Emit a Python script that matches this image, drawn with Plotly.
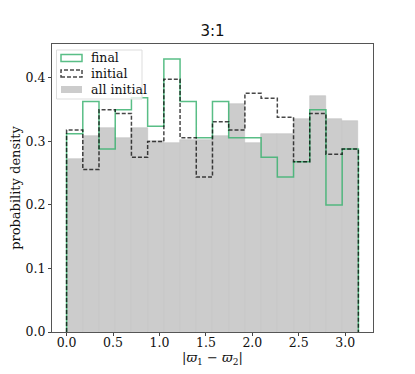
import numpy as np
import plotly.graph_objects as go

# 18 bins over [0, pi]
bin_edges = list(np.linspace(0, np.pi, 19))
bin_centers = [(a + b) / 2 for a, b in zip(bin_edges[:-1], bin_edges[1:])]
bin_width = np.pi / 18

# densities
all_initial = [0.272, 0.309, 0.322, 0.305, 0.322, 0.301, 0.298, 0.302, 0.302,
               0.309, 0.359, 0.298, 0.312, 0.312, 0.335, 0.372, 0.335, 0.332]
final = [0.312, 0.363, 0.288, 0.350, 0.369, 0.324, 0.430, 0.363, 0.306,
         0.363, 0.306, 0.306, 0.275, 0.244, 0.268, 0.350, 0.200, 0.288]
initial = [0.318, 0.256, 0.350, 0.344, 0.275, 0.300, 0.398, 0.306, 0.244,
           0.331, 0.318, 0.376, 0.368, 0.338, 0.268, 0.344, 0.280, 0.288]

legend_labels = ["final", "initial", "all initial"]
title = "3:1"

GREEN = "rgba(60,179,113,0.85)"
DASH = "rgba(0,0,0,0.72)"
GRAY = "#cccccc"
SERIF = "DejaVu Serif, serif"

# the page body has an 8px margin, so the figure is drawn 8px in and down
W, H = 407, 366
OFF = 8


def step_xy(vals):
    # outline like matplotlib histtype='step'
    xs = [bin_edges[0]] + bin_edges[:-1] + [bin_edges[-1]]
    ys = [0] + list(vals) + [0]
    return xs, ys


fig = go.Figure()
fig.add_bar(x=bin_centers, y=all_initial, width=bin_width,
            marker=dict(color=GRAY, line=dict(color="#c2c2c2", width=0.6)),
            name=legend_labels[2], showlegend=False)

gx, gy = step_xy(final)
fig.add_scatter(x=gx, y=gy, mode="lines", line_shape="hv",
                line=dict(color=GREEN, width=1.5),
                name=legend_labels[0], showlegend=False)

ix, iy = step_xy(initial)
fig.add_scatter(x=ix, y=iy, mode="lines", line_shape="hv",
                line=dict(color=DASH, width=1.5, dash="4px,2px"),
                name=legend_labels[1], showlegend=False)

# plot area in page pixels
L, R, T, B = 52, 373, 44, 332


def px(x):
    return (x - L) / (R - L)


def py(y):
    return (B - y) / (B - T)


# hand-made legend box (matplotlib look: outlined / dashed / filled patches)
shapes = [
    dict(type="rect", xref="paper", yref="paper", layer="above",
         x0=px(56.5), x1=px(142), y0=py(99), y1=py(50),
         fillcolor="rgba(255,255,255,0.8)", line=dict(color="#dddddd", width=1)),
    dict(type="rect", xref="paper", yref="paper", layer="above",
         x0=px(61), x1=px(82), y0=py(61.5), y1=py(54.5),
         line=dict(color=GREEN, width=1.5)),
    dict(type="rect", xref="paper", yref="paper", layer="above",
         x0=px(61), x1=px(82), y0=py(77), y1=py(70),
         line=dict(color=DASH, width=1.5, dash="4px,2px")),
    dict(type="rect", xref="paper", yref="paper", layer="above",
         x0=px(61), x1=px(82), y0=py(93), y1=py(86),
         fillcolor=GRAY, line=dict(width=0)),
]
annotations = [
    dict(xref="paper", yref="paper", x=px(89), y=py(yy), text=t,
         showarrow=False, xanchor="left", yanchor="middle",
         font=dict(family=SERIF, size=12.5, color="#111"))
    for t, yy in zip(legend_labels, [57.5, 73.5, 89.5])
]

fig.update_layout(
    width=W, height=H,
    margin=dict(l=L - OFF, r=W - (R - OFF), t=T - OFF, b=H - (B - OFF),
                autoexpand=False),
    paper_bgcolor="white", plot_bgcolor="white",
    title=dict(text=title, x=((L + R) / 2 - OFF) / W, xanchor="center",
               y=1 - (31 - OFF) / H, yanchor="middle",
               font=dict(family="DejaVu Sans, sans-serif", size=15, color="#111")),
    bargap=0,
    shapes=shapes, annotations=annotations,
    font=dict(family=SERIF, size=12, color="#111"),
)
fig.update_xaxes(range=[-0.157, 3.299], tickvals=[0, 0.5, 1.0, 1.5, 2.0, 2.5, 3.0],
                 tickformat=".1f", ticks="outside", ticklen=3, tickcolor="#444",
                 ticklabelstandoff=-4,
                 tickfont=dict(family=SERIF, size=12.5, color="#111"),
                 showline=True, linecolor="#555", linewidth=1, mirror=True,
                 showgrid=False, zeroline=False, automargin=False,
                 title=dict(text="|<i>ϖ</i><sub>1</sub> − <i>ϖ</i><sub>2</sub>|",
                            standoff=0, font=dict(family=SERIF, size=13)))
fig.update_yaxes(range=[0, 0.4535], tickvals=[0, 0.1, 0.2, 0.3, 0.4],
                 tickformat=".1f", ticks="outside", ticklen=3, tickcolor="#444",
                 tickfont=dict(family=SERIF, size=12.5, color="#111"),
                 showline=True, linecolor="#555", linewidth=1, mirror=True,
                 showgrid=False, zeroline=False, automargin=False,
                 title=dict(text="probability density", standoff=6,
                            font=dict(family=SERIF, size=13)))

fig.write_html("out.html")
